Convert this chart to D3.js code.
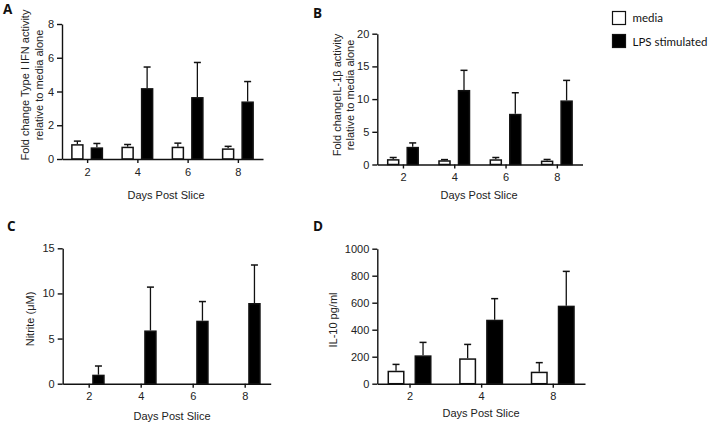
<!DOCTYPE html>
<html>
<head>
<meta charset="utf-8">
<script src="https://cdn.jsdelivr.net/npm/d3@7"></script>
<style>
  html, body { margin: 0; padding: 0; background: #fff; }
  svg { display: block; }
  .tick text { font-family: "Liberation Sans", Arial, sans-serif; font-size: 11px; fill: #222; }
  .axis path, .axis line { stroke: #111; stroke-width: 1.4px; }
</style>
</head>
<body>
<svg id="chart" width="708" height="423"></svg>
<script>
// ---- Data ----
const days = ["2", "4", "6", "8"];
const daysD = ["2", "4", "8"];

const mediaA = [0.88, 0.73, 0.73, 0.63];
const mediaAErr = [0.18, 0.13, 0.21, 0.12];
const lpsA = [0.69, 4.2, 3.67, 3.41];
const lpsAErr = [0.23, 1.25, 2.05, 1.18];

const mediaB = [0.82, 0.65, 0.8, 0.6];
const mediaBErr = [0.25, 0.1, 0.27, 0.17];
const lpsB = [2.7, 11.4, 7.75, 9.8];
const lpsBErr = [0.6, 3.0, 3.22, 3.06];

const mediaC = [0, 0, 0, 0];
const mediaCErr = [0, 0, 0, 0];
const lpsC = [1.0, 5.9, 6.98, 8.94];
const lpsCErr = [0.96, 4.8, 2.12, 4.21];

const mediaD = [96, 188, 89];
const mediaDErr = [47, 103, 67];
const lpsD = [210, 474, 578];
const lpsDErr = [96, 156, 254];

const ticksA = [0, 2, 4, 6, 8];
const ticksB = [0, 5, 10, 15, 20];
const ticksC = [0, 5, 10, 15];
const ticksD = [0, 200, 400, 600, 800, 1000];

const seriesNames = ["media", "LPS stimulated"];
const xTitle = "Days Post Slice";

// ---- Layout ----
const svg = d3.select("#chart");
const FONT = '"Liberation Sans", Arial, sans-serif';

const panels = [
  { letter: "A", lx: 3, ly: 14, cats: days, media: mediaA, mErr: mediaAErr, lps: lpsA, lErr: lpsAErr,
    ticks: ticksA, max: 8, x0: 62, x1: 263, y0: 159, y1: 24, pad: 0.5, half: 3.5, bw: 12.5,
    title: ["Fold change Type I IFN activity", "relative to media alone"], tx: [29, 43], ty: 85,
    xtx: 166, xty: 199 },
  { letter: "B", lx: 313, ly: 18, cats: days, media: mediaB, mErr: mediaBErr, lps: lpsB, lErr: lpsBErr,
    ticks: ticksB, max: 20, x0: 377.3, x1: 582.5, y0: 164.5, y1: 33.7, pad: 0.5, half: 3.5, bw: 12.5,
    title: ["Fold changeIL-1β activity", "relative to media alone"], tx: [340.5, 353.5], ty: 95,
    xtx: 479, xty: 199 },
  { letter: "C", lx: 7, ly: 231, cats: days, media: mediaC, mErr: mediaCErr, lps: lpsC, lErr: lpsCErr,
    ticks: ticksC, max: 15, x0: 62.7, x1: 270.7, y0: 383.7, y1: 248.3, pad: 0.5, half: 3.5, bw: 12.5,
    title: ["Nitrite (μM)"], tx: [34], ty: 319,
    xtx: 172, xty: 420 },
  { letter: "D", lx: 313, ly: 231, cats: daysD, media: mediaD, mErr: mediaDErr, lps: lpsD, lErr: lpsDErr,
    ticks: ticksD, max: 1000, x0: 377.3, x1: 585, y0: 383.7, y1: 248.7, pad: 0.45, half: 5, bw: 17,
    title: ["IL-10 pg/ml"], tx: [336.5], ty: 320,
    xtx: 481, xty: 417 }
];

panels.forEach(p => {
  const g = svg.append("g");
  const x = d3.scalePoint().domain(p.cats).range([p.x0, p.x1]).padding(p.pad);
  const y = d3.scaleLinear().domain([0, p.max]).range([p.y0, p.y1]);

  // bars
  const groups = [
    { vals: p.media, errs: p.mErr, off: -p.half - p.bw, fill: "#fff" },
    { vals: p.lps, errs: p.lErr, off: p.half, fill: "#000" }
  ];
  groups.forEach(s => {
    p.cats.forEach((c, i) => {
      const v = s.vals[i];
      if (v <= 0) return;
      const bx = x(c) + s.off;
      const top = y(v);
      const errTop = y(v + s.errs[i]);
      const cx = bx + p.bw / 2;
      // error bar
      if (s.errs[i] > 0) {
        g.append("line").attr("x1", cx).attr("x2", cx).attr("y1", top).attr("y2", errTop)
          .attr("stroke", "#111").attr("stroke-width", 1.3);
        g.append("line").attr("x1", cx - 3.5).attr("x2", cx + 3.5).attr("y1", errTop).attr("y2", errTop)
          .attr("stroke", "#111").attr("stroke-width", 1.5);
      }
      const sw = 1.5;
      g.append("rect")
        .attr("x", bx + sw / 2).attr("y", top + sw / 2)
        .attr("width", p.bw - sw).attr("height", Math.max(0, y(0) - top - sw / 2))
        .attr("fill", s.fill).attr("stroke", "#111").attr("stroke-width", sw);
    });
  });

  // axes
  g.append("g").attr("class", "axis").attr("transform", `translate(0,${p.y0})`)
    .call(d3.axisBottom(x).tickSize(4).tickSizeOuter(0).tickPadding(5));
  g.append("g").attr("class", "axis").attr("transform", `translate(${p.x0},0)`)
    .call(d3.axisLeft(y).tickValues(p.ticks).tickFormat(d3.format("d")).tickSize(5).tickSizeOuter(0).tickPadding(3));

  // y title
  p.title.forEach((t, k) => {
    g.append("text")
      .attr("transform", `translate(${p.tx[k]},${p.ty}) rotate(-90)`)
      .attr("text-anchor", "middle")
      .attr("font-family", FONT).attr("font-size", 11).attr("fill", "#222")
      .text(t);
  });

  // x title
  g.append("text").attr("x", p.xtx).attr("y", p.xty)
    .attr("text-anchor", "middle")
    .attr("font-family", FONT).attr("font-size", 11).attr("fill", "#222")
    .text(xTitle);

  // panel letter
  g.append("text").attr("x", p.lx).attr("y", p.ly)
    .attr("font-family", '"Open Sans", Lato, sans-serif').attr("font-weight", "bold")
    .attr("font-size", 13.5).attr("fill", "#111")
    .text(p.letter);
});

// legend
const legend = svg.append("g");
const legendFills = ["#fff", "#000"];
seriesNames.forEach((n, i) => {
  legend.append("rect")
    .attr("x", 612.5).attr("y", 11.5 + i * 23)
    .attr("width", 13).attr("height", 13)
    .attr("fill", legendFills[i]).attr("stroke", "#111").attr("stroke-width", 1.2);
  legend.append("text")
    .attr("x", 632.5).attr("y", 22 + i * 23.5)
    .attr("font-family", 'Lato, "Open Sans", sans-serif').attr("font-size", 11.5).attr("fill", "#111")
    .text(n);
});
</script>
</body>
</html>
